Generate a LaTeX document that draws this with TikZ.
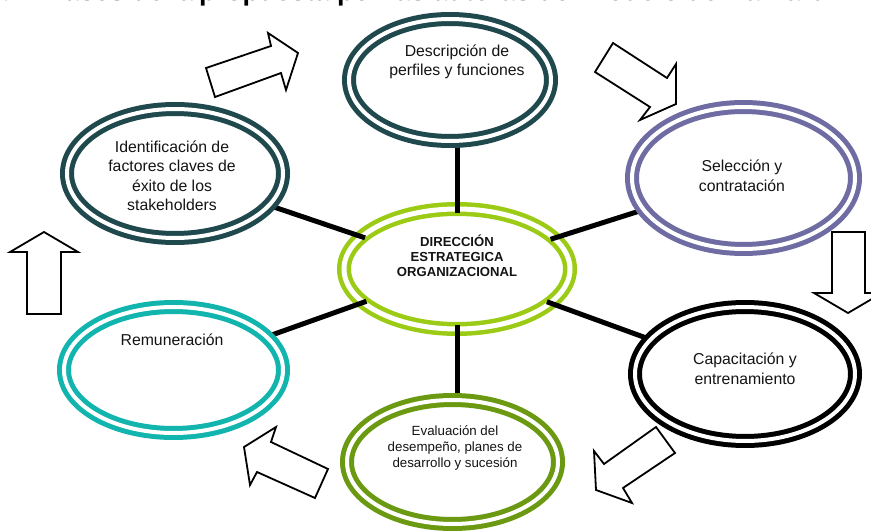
\documentclass[tikz,border=0pt]{standalone}
\usepackage{fontspec}
\setmainfont{Liberation Sans}
\usetikzlibrary{shapes.geometric}
\definecolor{deepteal}{RGB}{31,73,77}
\definecolor{slatepurple}{RGB}{110,108,162}
\definecolor{olivegreen}{RGB}{107,153,18}
\definecolor{aquateal}{RGB}{18,180,174}
\definecolor{limegreen}{RGB}{155,203,20}
\definecolor{inkblack}{RGB}{20,20,20}
\tikzset{
  ring/.style={ellipse, draw=#1, fill=white, line width=5pt,
    double=white, double distance=4pt, inner sep=0pt},
  guide/.style={ellipse, inner sep=0pt, outer sep=2pt},
  txt/.style={align=center, text=inkblack, inner sep=0pt,
    font=\fontsize{15.8}{19.5}\selectfont},
  smalltxt/.style={align=center, text=inkblack, inner sep=0pt,
    font=\fontsize{13.3}{16}\selectfont},
  spoke/.style={draw=black, line width=5pt},
  blockarrow/.style={draw=black, fill=white, line width=1.8pt, line join=miter},
  headtxt/.style={inner sep=0pt, font=\fontsize{27}{30}\selectfont\bfseries},
}
\begin{document}
\begin{tikzpicture}[x=1pt,y=-1pt]
\useasboundingbox (0,0) rectangle (871,532);
\clip (0,0) rectangle (871,532);
\fill[white] (0,0) rectangle (871,532);

% heading line, cut by the top edge
\node[headtxt, anchor=base east] (head0) at (194,0.5) {Figura 1. Fases de la};
\node[headtxt, anchor=base west] (head1) at (199,0.5) {propuesta por las autoras del Modelo de Harvard};

% central ellipse
\node[ring=limegreen, line width=4.5pt, double distance=5pt,
      minimum width=226pt, minimum height=120pt] (cen) at (457,269) {};

% outline guides of the outer ellipses, used to end the spokes
\node[guide, minimum width=202pt, minimum height=122pt] (gdescr) at (450,80) {};
\node[guide, minimum width=216pt, minimum height=129pt] (gident) at (175,173.5) {};
\node[guide, minimum width=223pt, minimum height=142pt] (gselec) at (743.5,178) {};
\node[guide, minimum width=220pt, minimum height=134pt] (gcapac) at (745,374) {};
\node[guide, minimum width=211pt, minimum height=124pt] (geval) at (452.5,462) {};
\node[guide, minimum width=219pt, minimum height=126pt] (gremun) at (173.5,370) {};

% spokes from the centre
\draw[spoke, shorten <=-6pt] (cen.north) -- (cen.north |- gdescr.south);
\draw[spoke, shorten <=-6pt] (cen.south) -- (cen.south |- geval.north);
\draw[spoke, shorten <=-6pt] (cen) -- (gident);
\draw[spoke, shorten <=-6pt] (cen) -- (gselec);
\draw[spoke, shorten <=-6pt] (cen) -- (gcapac);
\draw[spoke, shorten <=-6pt] (cen) -- (gremun);

% outer ellipses
\node[ring=deepteal, minimum width=202pt, minimum height=122pt] (descr) at (gdescr) {};
\node[ring=deepteal, minimum width=216pt, minimum height=129pt] (ident) at (gident) {};
\node[ring=slatepurple, minimum width=223pt, minimum height=142pt] (selec) at (gselec) {};
\node[ring=black, minimum width=220pt, minimum height=134pt] (capac) at (gcapac) {};
\node[ring=olivegreen, minimum width=211pt, minimum height=124pt] (eval) at (geval) {};
\node[ring=aquateal, minimum width=219pt, minimum height=126pt] (remun) at (gremun) {};

% texts
\node[txt] (tdescr) at (457,62) {Descripción de\\perfiles y funciones};
\node[txt] (tident) at (172,176) {Identificación de\\factores claves de\\éxito de los\\stakeholders};
\node[txt] (tselec) at (742,176) {Selección y\\contratación};
\node[txt] (tcapac) at (745,369) {Capacitación y\\entrenamiento};
\node[smalltxt] (teval) at (455,448) {Evaluación del\\desempeño, planes de\\desarrollo y sucesión};
\node[txt] (tremun) at (172,340) {Remuneración};
\node[align=center, inner sep=0pt, text=inkblack,
      font=\fontsize{13.1}{15}\selectfont\bfseries] (tcen) at (457,256)
      {DIRECCIÓN\\ESTRATEGICA\\ORGANIZACIONAL};

% block arrows around the cycle
\draw[blockarrow] (215,97) -- (206,68) -- (271,46) -- (268,33) -- (298,53) -- (286,90) -- (281,73) -- cycle;
\draw[blockarrow] (613,43) -- (667,78) -- (676,64) -- (676,104) -- (640,120) -- (650,107) -- (595,72) -- cycle;
\draw[blockarrow] (832,232) -- (865,232) -- (865,293) -- (882,293) -- (848,313) -- (814,293) -- (832,293) -- cycle;
\draw[blockarrow] (656,427) -- (675,453) -- (623,488) -- (632,503) -- (596,490) -- (594,451) -- (604,464) -- cycle;
\draw[blockarrow] (328,469) -- (315,498) -- (257,472) -- (250,485) -- (244,447) -- (276,427) -- (271,442) -- cycle;
\draw[blockarrow] (27,314) -- (27,252) -- (10,252) -- (44,232) -- (78,252) -- (61,252) -- (61,314) -- cycle;
\end{tikzpicture}
\end{document}
